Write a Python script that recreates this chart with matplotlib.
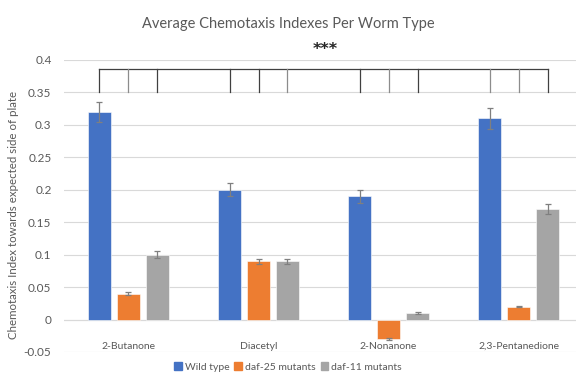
import matplotlib.pyplot as plt
from matplotlib.patches import Patch
import numpy as np

odorants = ['2-Butanone', 'Diacetyl', '2-Nonanone', '2,3-Pentanedione']
series = ['Wild type', 'daf-25 mutants', 'daf-11 mutants']
wild = [0.32, 0.20, 0.19, 0.31]
daf25 = [0.04, 0.09, -0.03, 0.02]
daf11 = [0.10, 0.09, 0.01, 0.17]
wild_err = [0.015, 0.01, 0.01, 0.016]
daf25_err = [0.002, 0.004, 0.001, 0.001]
daf11_err = [0.005, 0.004, 0.001, 0.008]
yticks = [-0.05, 0, 0.05, 0.1, 0.15, 0.2, 0.25, 0.3, 0.35, 0.4]
ytick_labels = ['-0.05', '0', '0.05', '0.1', '0.15', '0.2', '0.25', '0.3', '0.35', '0.4']

colors = ['#4472C4', '#ED7D31', '#A5A5A5']
txt = '#595959'
plt.rcParams['font.family'] = ['Lato', 'DejaVu Sans']

fig = plt.figure(figsize=(5.76, 3.75), dpi=100)
ax = fig.add_axes([64/576, 23/375, 512/576, 292/375])

x = np.arange(len(odorants))
off = 0.223
w = 0.17
vals = [wild, daf25, daf11]
errs = [wild_err, daf25_err, daf11_err]
for i in range(3):
    ax.bar(x + (i-1)*off, vals[i], w, color=colors[i], zorder=3,
           edgecolor='white', linewidth=0.4)
    ax.errorbar(x + (i-1)*off, vals[i], yerr=errs[i], fmt='none',
                ecolor='#7f7f7f', elinewidth=0.9, capsize=2.5, capthick=0.9, zorder=4)

ax.set_xlim(-0.496, 3.442)
ax.set_ylim(-0.05, 0.4)
ax.set_yticks(yticks)
ax.set_yticklabels(ytick_labels)
ax.yaxis.grid(True, color='#d9d9d9', linewidth=0.8, zorder=0)
ax.set_xticks([])
for s in ax.spines.values():
    s.set_visible(False)
ax.axhline(0, color='#d9d9d9', linewidth=0.8, zorder=1)
ax.tick_params(axis='y', length=0, labelsize=8.5, labelcolor=txt, pad=9)

for i, name in enumerate(odorants):
    ax.text(i, -0.041, name, ha='center', va='center', fontsize=7.5, color=txt)

# significance bracket
bx = np.concatenate([[xi - off, xi, xi + off] for xi in x])
tick_cols = ['#404040', '#8c8c8c', '#404040', '#404040', '#404040', '#8c8c8c',
             '#404040', '#8c8c8c', '#404040', '#8c8c8c', '#8c8c8c', '#404040']
ax.plot([bx[0], bx[-1]], [0.386, 0.386], color='#404040', lw=0.9, clip_on=False, zorder=5)
for xb, c in zip(bx, tick_cols):
    ax.plot([xb, xb], [0.386, 0.351], color=c, lw=0.9, clip_on=False, zorder=5)
ax.text(1.51, 0.416, '***', ha='center', va='center', fontsize=11.5, fontweight='bold',
        color='#262626', family='DejaVu Sans', clip_on=False)

ax.set_ylabel('Chemotaxis Index towards expected side of plate', fontsize=8.3, color=txt)
ax.yaxis.set_label_coords(-0.087, 0.47)
fig.suptitle('Average Chemotaxis Indexes Per Worm Type', x=0.5, y=0.955,
             fontsize=10.5, color=txt)

handles = [Patch(color=c) for c in colors]
fig.legend(handles, series, loc='center', bbox_to_anchor=(0.5, 8/375), ncol=3,
           frameon=False, fontsize=7.5, handlelength=0.7, handleheight=0.7,
           handletextpad=0.3, columnspacing=0.5, labelcolor=txt)

fig.savefig('out.png', dpi=100)
